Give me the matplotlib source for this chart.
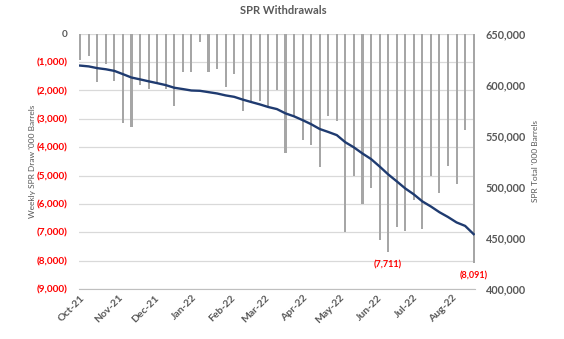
import pandas as pd
import matplotlib
matplotlib.use("Agg")
import matplotlib.pyplot as plt
import matplotlib.dates as mdates
from matplotlib.ticker import FuncFormatter, FixedLocator

plt.rcParams['font.family'] = ['Lato', 'DejaVu Sans']

# weekly data, week ending Fridays
weeks = pd.date_range("2021-10-01", "2022-08-19", freq="7D")

# weekly SPR draw, '000 barrels
draw = [-920, -800, -1690, -1070, -1655, -3155, -3285, -1810, -1965, -1750,
        -1965, -2550, -1345, -1345, -280, -1345, -1260, -1880, -1405, -2715,
        -2380, -2360, -2540, -1976, -4207, -2914, -3760, -3913, -4700, -2914,
        -3090, -6992, -5006, -5993, -5441, -7274, -7711, -6816, -6945, -5852,
        -6886, -5006, -5617, -4677, -5300, -3408, -8091]

# SPR total stocks, '000 barrels
total = [618800, 618000, 616300, 615200, 613600, 610400, 607100, 605300,
         603400, 601600, 599700, 597100, 595800, 594400, 594100, 592800,
         591500, 589600, 588200, 585500, 583100, 580800, 578200, 576200,
         572000, 569100, 565400, 561400, 556700, 553800, 550700, 543700,
         538700, 532700, 527300, 520000, 512300, 505500, 498500, 492700,
         485800, 480800, 475200, 470500, 465200, 461800, 453700]

month_ticks = pd.date_range("2021-10-01", "2022-08-01", freq="MS")
labelled = {36: "(7,711)", 46: "(8,091)"}

grey = "#595959"
red = "#FF0000"

fig = plt.figure(figsize=(5.64, 3.39), dpi=100)
ax = fig.add_axes([0.140, 0.1475, 0.702, 0.753])
ax2 = ax.twinx()

ax.bar(weeks, draw, width=1.7, color="#a6a6a6", zorder=2)
for i, txt in labelled.items():
    ax.annotate(txt, (weeks[i], draw[i]), xytext=(0, -9), textcoords="offset points",
                ha="center", va="center", color=red, fontsize=6.5, fontweight="bold")

ax2.plot(weeks, total, color="#1f3b70", lw=1.7, zorder=3)

ax.set_ylim(-9000, 0)
ax.yaxis.set_major_locator(FixedLocator(range(-9000, 1, 1000)))
ax.yaxis.set_major_formatter(FuncFormatter(
    lambda v, p: "0" if v == 0 else "({:,.0f})".format(abs(v))))
ax.grid(axis="y", color="#d9d9d9", lw=0.9, zorder=0)
ax.set_axisbelow(True)
for lab in ax.get_yticklabels():
    lab.set_color(red if lab.get_text() != "0" else grey)
ax.tick_params(axis="y", length=0, pad=8, labelsize=7.2)
for lab in ax.get_yticklabels():
    lab.set_fontweight("bold")

ax2.set_ylim(400000, 650000)
ax2.yaxis.set_major_locator(FixedLocator(range(400000, 650001, 50000)))
ax2.yaxis.set_major_formatter(FuncFormatter(lambda v, p: "{:,.0f}".format(v)))
ax2.tick_params(axis="y", length=0, pad=8, labelsize=7.8, labelcolor=grey)
for lab in ax2.get_yticklabels():
    lab.set_fontweight("bold")

ax.set_xlim(weeks[0] - pd.Timedelta(days=1), weeks[-1] + pd.Timedelta(days=1))
ax.set_xticks(month_ticks)
ax.xaxis.set_major_formatter(mdates.DateFormatter("%b-%y"))
ax.tick_params(axis="x", length=0, pad=3, labelsize=7.5, labelcolor=grey)
for lab in ax.get_xticklabels():
    lab.set_rotation(45)
    lab.set_ha("right")
    lab.set_rotation_mode("anchor")
    lab.set_fontweight("bold")

for a in (ax, ax2):
    for s in a.spines.values():
        s.set_visible(False)
ax.spines["bottom"].set_visible(True)
ax.spines["bottom"].set_color("#bfbfbf")

fig.text(0.502, 0.97, "SPR Withdrawals", ha="center", va="center",
         color=grey, fontsize=8, fontweight="bold")
fig.text(0.057, 0.525, "Weekly SPR Draw '000 Barrels", rotation=90,
         ha="center", va="center", color=grey, fontsize=6)
fig.text(0.949, 0.525, "SPR Total '000 Barrels", rotation=90,
         ha="center", va="center", color=grey, fontsize=6)

fig.savefig("out.png", dpi=100)
